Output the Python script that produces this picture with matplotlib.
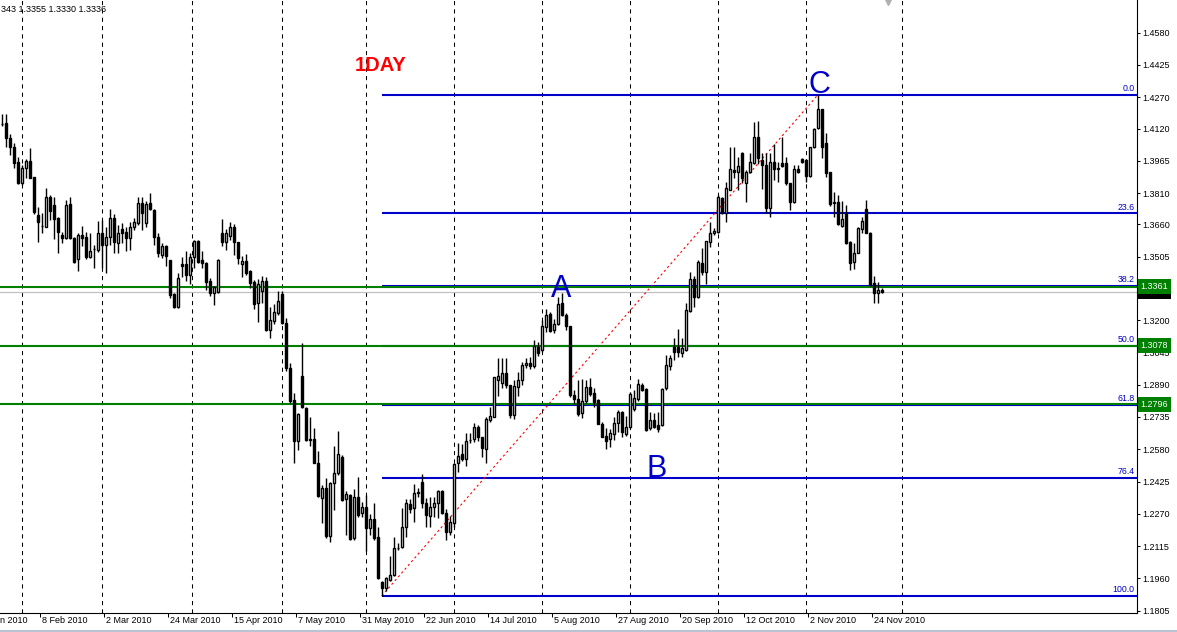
import matplotlib
matplotlib.use('Agg')
import matplotlib.pyplot as plt
from matplotlib.transforms import blended_transform_factory, ScaledTranslation
from matplotlib.lines import Line2D

plt.rcParams['font.family'] = ['Liberation Sans', 'DejaVu Sans']

# EURUSD daily bars, bar 0 = first bar visible at the left edge (late Jan 2010)
opens = [
    1.4143, 1.4145, 1.4073, 1.4030, 1.3959, 1.3857, 1.3929, 1.3964, 1.3886, 1.3705,
    1.3652, 1.3649, 1.3790, 1.3751, 1.3689, 1.3609, 1.3593, 1.3758, 1.3593, 1.3492,
    1.3609, 1.3601, 1.3505, 1.3540, 1.3537, 1.3617, 1.3561, 1.3601, 1.3689, 1.3572,
    1.3636, 1.3622, 1.3593, 1.3649, 1.3665, 1.3761, 1.3665, 1.3761, 1.3729, 1.3601,
    1.3513, 1.3556, 1.3487, 1.3324, 1.3265, 1.3470, 1.3470, 1.3417, 1.3502, 1.3580,
    1.3489, 1.3476, 1.3388, 1.3332, 1.3337, 1.3620, 1.3577, 1.3606, 1.3646, 1.3574,
    1.3468, 1.3484, 1.3438, 1.3383, 1.3281, 1.3342, 1.3388, 1.3153, 1.3198, 1.3233,
    1.3326, 1.3188, 1.2969, 1.2817, 1.2622, 1.2932, 1.2780, 1.2628, 1.2628, 1.2516,
    1.2345, 1.2393, 1.2164, 1.2417, 1.2465, 1.2542, 1.2342, 1.2362, 1.2153, 1.2350,
    1.2273, 1.2302, 1.2204, 1.2244, 1.2158, 1.1945, 1.1913, 1.1953, 1.1977, 1.2107,
    1.2110, 1.2209, 1.2316, 1.2297, 1.2374, 1.2422, 1.2321, 1.2260, 1.2305, 1.2324,
    1.2380, 1.2273, 1.2185, 1.2225, 1.2513, 1.2556, 1.2532, 1.2625, 1.2628, 1.2687,
    1.2639, 1.2580, 1.2721, 1.2737, 1.2913, 1.2899, 1.2947, 1.2887, 1.2745, 1.2881,
    1.2913, 1.2985, 1.2996, 1.2980, 1.3073, 1.3057, 1.3169, 1.3228, 1.3153, 1.3182,
    1.3283, 1.3225, 1.3170, 1.2841, 1.2822, 1.2756, 1.2814, 1.2878, 1.2849, 1.2817,
    1.2702, 1.2644, 1.2628, 1.2654, 1.2708, 1.2759, 1.2654, 1.2686, 1.2772, 1.2820,
    1.2889, 1.2870, 1.2681, 1.2721, 1.2697, 1.2697, 1.2875, 1.2980, 1.3073, 1.3070,
    1.3044, 1.3057, 1.3246, 1.3396, 1.3310, 1.3476, 1.3433, 1.3577, 1.3617, 1.3625,
    1.3785, 1.3713, 1.3825, 1.3921, 1.3913, 1.4004, 1.3857, 1.3913, 1.3956, 1.4078,
    1.3969, 1.3945, 1.3737, 1.3961, 1.3929, 1.3953, 1.3953, 1.3857, 1.3769, 1.3924,
    1.3972, 1.3969, 1.3892, 1.4030, 1.4121, 1.4212, 1.4052, 1.3910, 1.3761, 1.3769,
    1.3652, 1.3713, 1.3577, 1.3481, 1.3524, 1.3636, 1.3732, 1.3620, 1.3377, 1.3332,
    1.3343,
]
highs = [
    1.4190, 1.4190, 1.4094, 1.4052, 1.3982, 1.3945, 1.3972, 1.4025, 1.3889, 1.3742,
    1.3713, 1.3833, 1.3801, 1.3793, 1.3694, 1.3625, 1.3777, 1.3793, 1.3601, 1.3617,
    1.3652, 1.3625, 1.3620, 1.3561, 1.3678, 1.3681, 1.3649, 1.3732, 1.3708, 1.3657,
    1.3665, 1.3649, 1.3673, 1.3689, 1.3793, 1.3793, 1.3774, 1.3809, 1.3732, 1.3617,
    1.3569, 1.3561, 1.3489, 1.3332, 1.3425, 1.3505, 1.3534, 1.3524, 1.3585, 1.3585,
    1.3532, 1.3481, 1.3404, 1.3364, 1.3492, 1.3686, 1.3636, 1.3673, 1.3662, 1.3577,
    1.3508, 1.3518, 1.3441, 1.3393, 1.3396, 1.3412, 1.3409, 1.3265, 1.3278, 1.3342,
    1.3342, 1.3209, 1.2993, 1.2852, 1.2756, 1.3092, 1.2782, 1.2737, 1.2681, 1.2572,
    1.2409, 1.2441, 1.2425, 1.2596, 1.2668, 1.2553, 1.2380, 1.2364, 1.2388, 1.2446,
    1.2329, 1.2361, 1.2270, 1.2321, 1.2209, 1.1950, 1.1969, 1.2068, 1.2161, 1.2132,
    1.2297, 1.2340, 1.2340, 1.2414, 1.2393, 1.2462, 1.2345, 1.2350, 1.2350, 1.2385,
    1.2385, 1.2292, 1.2260, 1.2513, 1.2609, 1.2606, 1.2657, 1.2660, 1.2708, 1.2697,
    1.2641, 1.2737, 1.2782, 1.2929, 1.3019, 1.3019, 1.3019, 1.2889, 1.2913, 1.2953,
    1.3001, 1.3019, 1.3022, 1.3105, 1.3097, 1.3201, 1.3252, 1.3241, 1.3204, 1.3313,
    1.3332, 1.3234, 1.3172, 1.2865, 1.2913, 1.2916, 1.2913, 1.2921, 1.2873, 1.2820,
    1.2713, 1.2681, 1.2676, 1.2734, 1.2769, 1.2766, 1.2740, 1.2857, 1.2865, 1.2916,
    1.2897, 1.2873, 1.2759, 1.2756, 1.2761, 1.2873, 1.3033, 1.3033, 1.3113, 1.3156,
    1.3113, 1.3281, 1.3433, 1.3412, 1.3489, 1.3545, 1.3581, 1.3673, 1.3641, 1.3801,
    1.3793, 1.3865, 1.4030, 1.4033, 1.3985, 1.4009, 1.3921, 1.4004, 1.4153, 1.4156,
    1.4001, 1.4001, 1.4001, 1.4046, 1.3961, 1.4081, 1.3982, 1.3860, 1.3945, 1.3945,
    1.3977, 1.3972, 1.4033, 1.4121, 1.4281, 1.4214, 1.4097, 1.3913, 1.3817, 1.3801,
    1.3774, 1.3753, 1.3581, 1.3572, 1.3649, 1.3697, 1.3777, 1.3625, 1.3412, 1.3385,
    1.3355,
]
lows = [
    1.4132, 1.4033, 1.3993, 1.3929, 1.3855, 1.3849, 1.3881, 1.3881, 1.3710, 1.3577,
    1.3617, 1.3646, 1.3681, 1.3588, 1.3524, 1.3572, 1.3588, 1.3591, 1.3473, 1.3438,
    1.3556, 1.3492, 1.3497, 1.3449, 1.3529, 1.3449, 1.3428, 1.3561, 1.3524, 1.3524,
    1.3569, 1.3532, 1.3537, 1.3633, 1.3657, 1.3633, 1.3649, 1.3729, 1.3561, 1.3505,
    1.3497, 1.3460, 1.3305, 1.3257, 1.3260, 1.3409, 1.3390, 1.3374, 1.3449, 1.3475,
    1.3449, 1.3345, 1.3316, 1.3273, 1.3332, 1.3556, 1.3537, 1.3585, 1.3513, 1.3468,
    1.3409, 1.3417, 1.3353, 1.3252, 1.3193, 1.3284, 1.3150, 1.3113, 1.3182, 1.3225,
    1.3182, 1.2958, 1.2801, 1.2516, 1.2577, 1.2780, 1.2622, 1.2596, 1.2513, 1.2350,
    1.2228, 1.2153, 1.2137, 1.2289, 1.2457, 1.2334, 1.2169, 1.2145, 1.2145, 1.2257,
    1.2257, 1.2094, 1.2169, 1.2145, 1.1956, 1.1876, 1.1902, 1.1950, 1.1972, 1.2097,
    1.2108, 1.2161, 1.2273, 1.2233, 1.2350, 1.2297, 1.2206, 1.2206, 1.2254, 1.2249,
    1.2270, 1.2145, 1.2169, 1.2209, 1.2473, 1.2526, 1.2500, 1.2612, 1.2617, 1.2620,
    1.2542, 1.2516, 1.2713, 1.2735, 1.2836, 1.2875, 1.2875, 1.2731, 1.2726, 1.2836,
    1.2889, 1.2971, 1.2964, 1.2969, 1.3028, 1.3049, 1.3145, 1.3145, 1.3140, 1.3177,
    1.3220, 1.3153, 1.2833, 1.2798, 1.2740, 1.2729, 1.2804, 1.2836, 1.2785, 1.2700,
    1.2639, 1.2580, 1.2593, 1.2625, 1.2665, 1.2641, 1.2644, 1.2681, 1.2766, 1.2814,
    1.2861, 1.2670, 1.2673, 1.2681, 1.2663, 1.2694, 1.2865, 1.2961, 1.3009, 1.3025,
    1.3025, 1.3054, 1.3241, 1.3265, 1.3305, 1.3417, 1.3374, 1.3553, 1.3609, 1.3617,
    1.3710, 1.3671, 1.3823, 1.3881, 1.3825, 1.3857, 1.3769, 1.3905, 1.3950, 1.3950,
    1.3828, 1.3713, 1.3697, 1.3873, 1.3865, 1.3937, 1.3849, 1.3729, 1.3764, 1.3905,
    1.3953, 1.3865, 1.3889, 1.4025, 1.4116, 1.3977, 1.3886, 1.3748, 1.3697, 1.3657,
    1.3649, 1.3566, 1.3441, 1.3444, 1.3521, 1.3620, 1.3617, 1.3364, 1.3281, 1.3281,
    1.3330,
]
closes = [
    1.4140, 1.4073, 1.4033, 1.3956, 1.3857, 1.3929, 1.3964, 1.3884, 1.3721, 1.3673,
    1.3650, 1.3790, 1.3725, 1.3684, 1.3625, 1.3593, 1.3753, 1.3593, 1.3481, 1.3609,
    1.3593, 1.3505, 1.3532, 1.3541, 1.3620, 1.3561, 1.3601, 1.3689, 1.3577, 1.3617,
    1.3620, 1.3593, 1.3649, 1.3673, 1.3761, 1.3713, 1.3758, 1.3732, 1.3601, 1.3524,
    1.3556, 1.3508, 1.3321, 1.3265, 1.3401, 1.3460, 1.3417, 1.3502, 1.3580, 1.3481,
    1.3476, 1.3385, 1.3332, 1.3358, 1.3490, 1.3577, 1.3617, 1.3646, 1.3574, 1.3497,
    1.3484, 1.3428, 1.3380, 1.3278, 1.3374, 1.3388, 1.3153, 1.3201, 1.3241, 1.3292,
    1.3185, 1.2969, 1.2814, 1.2622, 1.2750, 1.2782, 1.2625, 1.2626, 1.2516, 1.2356,
    1.2393, 1.2164, 1.2417, 1.2465, 1.2556, 1.2337, 1.2364, 1.2148, 1.2350, 1.2265,
    1.2302, 1.2204, 1.2244, 1.2153, 1.1961, 1.1913, 1.1961, 1.1977, 1.2105, 1.2106,
    1.2206, 1.2321, 1.2292, 1.2372, 1.2372, 1.2321, 1.2265, 1.2305, 1.2321, 1.2382,
    1.2273, 1.2185, 1.2233, 1.2511, 1.2548, 1.2532, 1.2622, 1.2623, 1.2689, 1.2639,
    1.2585, 1.2724, 1.2740, 1.2926, 1.2932, 1.2947, 1.2889, 1.2745, 1.2884, 1.2913,
    1.2985, 1.2996, 1.2980, 1.3076, 1.3044, 1.3172, 1.3225, 1.3148, 1.3182, 1.3278,
    1.3225, 1.3172, 1.2841, 1.2820, 1.2748, 1.2814, 1.2878, 1.2846, 1.2809, 1.2702,
    1.2641, 1.2622, 1.2657, 1.2708, 1.2759, 1.2665, 1.2689, 1.2846, 1.2825, 1.2894,
    1.2865, 1.2673, 1.2721, 1.2689, 1.2676, 1.2870, 1.2985, 1.3019, 1.3049, 1.3049,
    1.3065, 1.3249, 1.3396, 1.3310, 1.3481, 1.3433, 1.3580, 1.3617, 1.3628, 1.3790,
    1.3713, 1.3833, 1.3924, 1.3913, 1.3940, 1.3881, 1.3913, 1.3961, 1.4078, 1.3977,
    1.3945, 1.3737, 1.3961, 1.3924, 1.3927, 1.3940, 1.3857, 1.3769, 1.3924, 1.3913,
    1.3961, 1.3892, 1.4030, 1.4119, 1.4212, 1.4030, 1.3908, 1.3758, 1.3769, 1.3662,
    1.3684, 1.3569, 1.3476, 1.3524, 1.3641, 1.3678, 1.3620, 1.3369, 1.3332, 1.3345,
    1.3336,
]

# date labels, one every 16 bars, first one (15 Jan) sits left of the view
date_labels = ['15 Jan 2010', '8 Feb 2010', '2 Mar 2010', '24 Mar 2010', '15 Apr 2010',
               '7 May 2010', '31 May 2010', '22 Jun 2010', '14 Jul 2010', '5 Aug 2010',
               '27 Aug 2010', '20 Sep 2010', '12 Oct 2010', '2 Nov 2010', '24 Nov 2010']
first_label_bar = -6
label_step = 16

price_ticks = [1.4580, 1.4425, 1.4270, 1.4120, 1.3965, 1.3810, 1.3660, 1.3505,
               1.3200, 1.3045, 1.2890, 1.2735, 1.2580, 1.2425, 1.2270, 1.2115,
               1.1960, 1.1805]

# fibonacci retracement from the June low (A-B-C swing)
fib_names = ['0.0', '23.6', '38.2', '50.0', '61.8', '76.4', '100.0']
fib_prices = [1.4281, 1.3713, 1.3364, 1.3078, 1.2795, 1.2444, 1.1876]
fib_low_bar, fib_high_bar = 95, 204

green_levels = [1.3361, 1.3078, 1.2796]
bid_price = 1.3336
grid_bars = [5, 25, 47.5, 70, 91, 113, 135, 157, 179, 201, 225]
header = '343 1.3355 1.3330 1.3336'

W, H = 1177, 632
fig = plt.figure(figsize=(W / 100, H / 100), dpi=100)
fig.patch.set_facecolor('white')
ax = fig.add_axes([0, 19 / H, 1137 / W, 613 / H])
ax.set_xlim(-0.425, 283.8)
ax.set_ylim(1.1794, 1.4737)

# grid
ax.vlines(grid_bars, 1.1794, 1.4737, colors='black', linestyles=(0, (4, 4)),
          lw=0.75, zorder=1)

# horizontal levels: fib lines first, the green user lines on top
ax.axhline(bid_price, color='#c0c0c0', lw=0.9, zorder=1)
ax.hlines(fib_prices, fib_low_bar, 300, colors='#0000c8', lw=1.5, zorder=2)
for p in green_levels:
    ax.axhline(p, color='#008000', lw=1.5, zorder=2.5)

# red dotted swing line
ax.plot([fib_low_bar, fib_high_bar], [fib_prices[-1], fib_prices[0]],
        color='red', lw=0.8, ls=(0, (2, 2.5)), zorder=2)

# candles
xs = list(range(len(opens)))
ax.vlines(xs, lows, highs, colors='black', lw=1.0, zorder=3)
bottoms = [min(o, c) for o, c in zip(opens, closes)]
heights = [max(abs(c - o), 0.00003) for o, c in zip(opens, closes)]
fills = ['white' if c >= o else 'black' for o, c in zip(opens, closes)]
ax.bar(xs, heights, bottom=bottoms, width=0.5, color=fills, edgecolor='black',
       linewidth=1.0, zorder=4)

# fib level captions
tr_right = blended_transform_factory(ax.transAxes, ax.transData)
for name, p in zip(fib_names, fib_prices):
    ax.text(0.998, p, name, transform=tr_right + ScaledTranslation(0, 1.5 / 100, fig.dpi_scale_trans),
            ha='right', va='bottom', fontsize=6.3, color='#0000c8', zorder=5)

# wave letters and title
ax.text(94.6, 1.4396, '1DAY', color='red', fontsize=14.5, fontweight='bold',
        ha='center', va='baseline', zorder=6)
ax.text(139.8, 1.3311, 'A', color='#0000c8', fontsize=22, ha='center', va='baseline', zorder=6)
ax.text(163.6, 1.2447, 'B', color='#0000c8', fontsize=22, ha='center', va='baseline', zorder=6)
ax.text(204.3, 1.4291, 'C', color='#0000c8', fontsize=22, ha='center', va='baseline', zorder=6)

# axes look
for s in ['left', 'top']:
    ax.spines[s].set_visible(False)
for s in ['right', 'bottom']:
    ax.spines[s].set_linewidth(0.8)
    ax.spines[s].set_color('black')
ax.yaxis.tick_right()
ax.set_yticks(price_ticks)
ax.set_yticklabels(['%.4f' % v for v in price_ticks])
ax.tick_params(axis='y', direction='out', length=2.5, width=0.75, pad=1.5,
               labelsize=6.5, left=False)
tick_bars = [first_label_bar + label_step * i - 0.5 for i in range(len(date_labels))]
ax.set_xticks([t for t in tick_bars if t > -0.4])
ax.tick_params(axis='x', direction='out', length=3, width=0.75, labelbottom=False)

tr_bottom = blended_transform_factory(ax.transData, ax.transAxes)
for t, lbl in zip(tick_bars, date_labels):
    ax.text(t, 0, lbl, transform=tr_bottom + ScaledTranslation(2 / 100, -3 / 100, fig.dpi_scale_trans),
            ha='left', va='top', fontsize=6.5, clip_on=False)

# price boxes on the scale
ax.text(1.003, bid_price, '%.4f' % bid_price, transform=tr_right, ha='left', va='center',
        fontsize=6.5, color='white', clip_on=False, zorder=7,
        bbox=dict(boxstyle='square,pad=0.3', fc='black', ec='none'))
for p in green_levels:
    ax.text(1.003, p, '%.4f' % p, transform=tr_right, ha='left', va='center',
            fontsize=6.5, color='white', clip_on=False, zorder=8,
            bbox=dict(boxstyle='square,pad=0.3', fc='#008000', ec='none'))

# header and small chart-shift marker
fig.text(1 / W, 1 - 10 / H, header, fontsize=6.5, va='center', ha='left')
ax.plot([221.6], [1.4725], marker='v', color='#b0b0b0', ms=4, clip_on=False, zorder=6)
fig.add_artist(Line2D([0, 1], [1.5 / H, 1.5 / H], color='#b8c4d4', lw=1.5))

fig.savefig('out.png', dpi=100)
